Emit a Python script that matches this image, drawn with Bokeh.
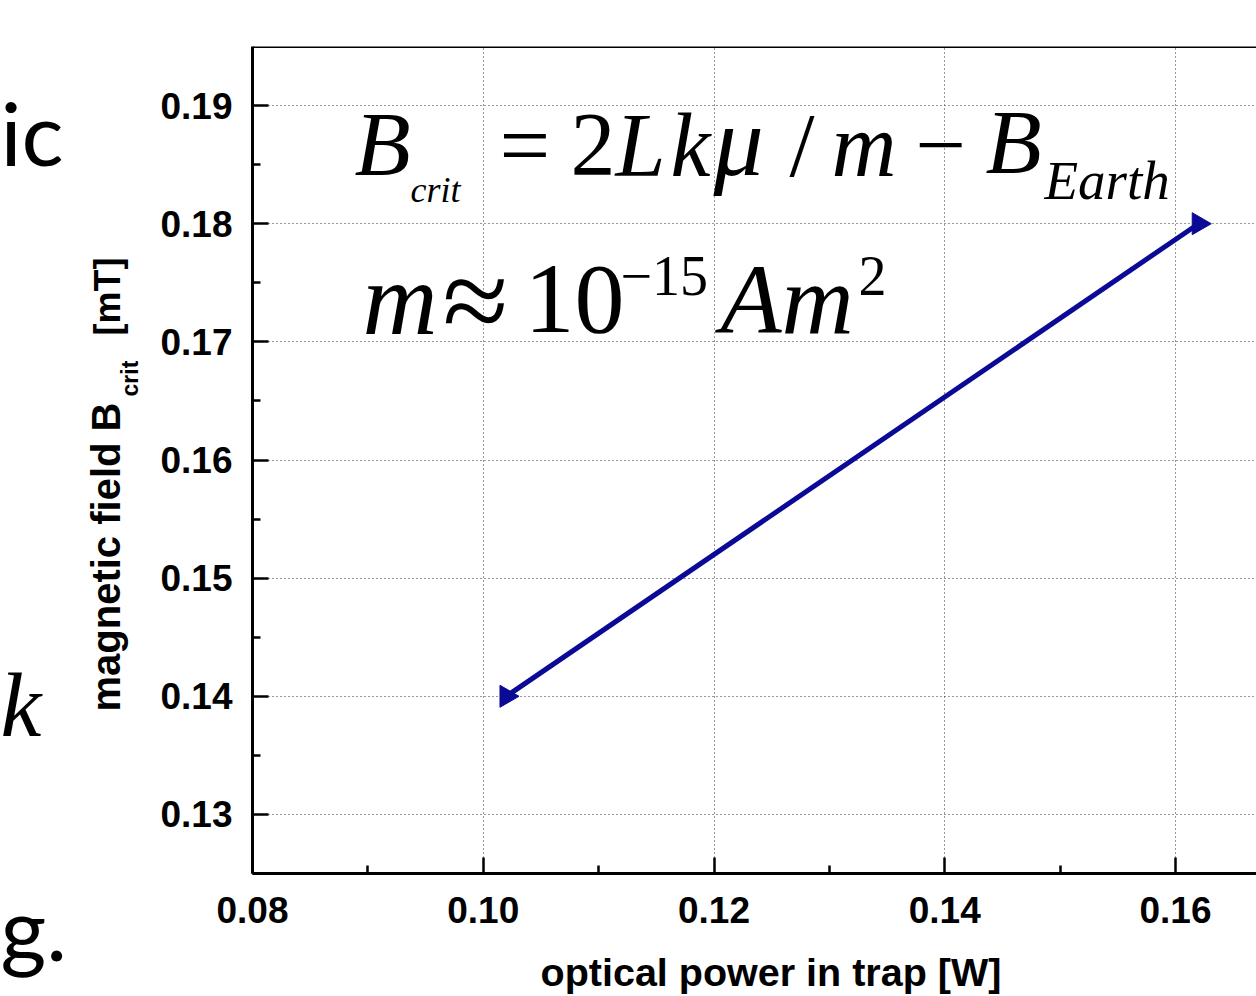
import math
from bokeh.plotting import figure
from bokeh.layouts import row
from bokeh.models import Label, Span, Title, FixedTicker, PrintfTickFormatter, ColumnDataSource
from bokeh.embed import file_html
from bokeh.resources import INLINE

# ---------------- data ----------------
power_w = [0.102, 0.162]          # optical power in trap [W]
b_crit_mt = [0.140, 0.180]        # magnetic field B_crit [mT]

x_major_ticks = [0.08, 0.10, 0.12, 0.14, 0.16]
x_minor_ticks = [0.09, 0.11, 0.13, 0.15]
y_major_ticks = [0.13, 0.14, 0.15, 0.16, 0.17, 0.18, 0.19]
y_minor_ticks = [0.125, 0.135, 0.145, 0.155, 0.165, 0.175, 0.185]

x_axis_title = "optical power in trap [W]"
y_axis_title_main = "magnetic field B"
y_axis_title_sub = "crit"
y_axis_title_unit = "[mT]"

# ---------------- layout ----------------
TOTAL_W, H = 1256, 996
LW = 148                      # narrow left strip (slide text + y title)
W = TOTAL_W - LW              # main figure width
FL_PAGE, FT, FB = 252, 46, 873
FL = FL_PAGE - LW             # frame left inside main figure
FW = W - FL
FH = FB - FT
X0 = 0.08
X1 = X0 + FW / 230.75 * 0.02
Y0, Y1 = 0.125, 0.195
BASE = 0.36                   # baseline correction (fraction of font size)

SANS = "Liberation Sans"
SERIF = "Liberation Serif"
NAVY = "#0A0A96"

def dx(px):
    return X0 + (px - FL_PAGE) / FW * (X1 - X0)

def dy(py):
    return Y1 - (py - FT) / FH * (Y1 - Y0)

# ---------------- main figure ----------------
p = figure(width=W, height=H, x_range=(X0, X1), y_range=(Y0, Y1),
           output_backend="svg", toolbar_location=None, title=None,
           min_border_left=FL, min_border_top=FT, min_border_right=0,
           min_border_bottom=H - FB)
p.background_fill_color = "white"
p.border_fill_color = "white"
p.outline_line_color = None

for ax, major, minor in ((p.xaxis[0], x_major_ticks, x_minor_ticks),
                         (p.yaxis[0], y_major_ticks, y_minor_ticks)):
    ax.ticker = FixedTicker(ticks=major, minor_ticks=minor)
    ax.formatter = PrintfTickFormatter(format="%.2f")
    ax.axis_line_width = 3
    ax.axis_line_color = "black"
    ax.major_tick_in = 16
    ax.major_tick_out = 0
    ax.minor_tick_in = 8
    ax.minor_tick_out = 0
    ax.major_tick_line_width = 2.5
    ax.minor_tick_line_width = 2.5
    ax.major_tick_line_color = "black"
    ax.minor_tick_line_color = "black"
    ax.major_label_text_font = SANS
    ax.major_label_text_font_style = "bold"
    ax.major_label_text_font_size = "37px"
    ax.major_label_text_color = "black"

p.yaxis[0].axis_label = None
p.xaxis[0].major_label_standoff = 23
p.yaxis[0].major_label_standoff = 20

# x-axis title (leading no-break spaces nudge the centred title to the right)
xa = p.xaxis[0]
xa.axis_label = "\u00a0\u00a0\u00a0" + x_axis_title
xa.axis_label_text_font = SANS
xa.axis_label_text_font_style = "bold"
xa.axis_label_text_font_size = "39.5px"
xa.axis_label_text_color = "black"
xa.axis_label_standoff = 24

for g in (p.xgrid[0], p.ygrid[0]):
    g.grid_line_color = "#333333"
    g.grid_line_width = 1
    g.grid_line_dash = "1 3"

p.add_layout(Span(location=Y1, dimension="width", line_color="black", line_width=3))

src = ColumnDataSource(dict(x=power_w, y=b_crit_mt))
p.line("x", "y", source=src, line_color=NAVY, line_width=5)
p.scatter("x", "y", source=src, marker="triangle", size=22, angle=-math.pi / 2,
          fill_color=NAVY, line_color=NAVY)

def lab(fig, text, x, y, size, font=SERIF, style="italic", angle=0.0):
    fig.add_layout(Label(x=x, y=y, text=text, text_font=font,
                         text_font_size=f"{size}px", text_font_style=style,
                         text_color="black", text_baseline="alphabetic",
                         text_align="left", angle=angle))

def eq(text, px, py, size, style="italic"):
    lab(p, text, dx(px), dy(py - BASE * size), size, style=style)

# equation line 1
eq("B", 354, 177, 92)
eq("crit", 410, 202, 36)
eq("=", 499, 177, 90, style="normal")
eq("2", 570, 177, 90, style="normal")
eq("L", 615, 177, 90)
eq("k", 670, 177, 90)
eq("μ", 713, 177, 100)
eq("/", 789, 177, 90, style="normal")
eq("m", 831, 177, 90)
eq("−", 915, 177, 90, style="normal")
eq("B", 985, 175, 92)
eq("Earth", 1044, 200, 55)

# equation line 2
eq("m", 362, 335, 104)
eq("≈", 442, 343, 120, style="normal")
eq("10", 524, 335, 100, style="normal")
eq("−15", 620, 296, 56, style="normal")
eq("Am", 720, 335, 100)
eq("2", 858, 296, 56, style="normal")

# ---------------- left strip ----------------
left = figure(width=LW, height=H, x_range=(0, LW), y_range=(FB, FT),
              output_backend="svg", toolbar_location=None, title=None,
              x_axis_location=None, y_axis_location=None, min_border=0)
left.outline_line_color = None
left.grid.visible = False
left.background_fill_color = "white"
left.border_fill_color = "white"

def vlab(text, base_x, start_y, size):
    lab(left, text, base_x - BASE * size, start_y, size, font=SANS, style="bold",
        angle=math.pi / 2)

vlab(y_axis_title_main, 120, 711, 40)
vlab(y_axis_title_sub, 138, 396, 23)
vlab(y_axis_title_unit, 120, 335, 36)

def hlab(text, px, py, size, font, style):
    lab(left, text, px, py - BASE * size, size, font=font, style=style)

hlab("ic", 0, 163, 88, "Lato", "normal")
hlab("k", 0, 738, 92, SERIF, "italic")
left.add_layout(Title(text="g.", align="left", offset=0, standoff=0,
                      vertical_align="top", text_font="Lato",
                      text_font_size="88px", text_font_style="normal",
                      text_color="black"), "below")

layout = row(left, p)
open("out.html", "w").write(file_html(layout, INLINE))
